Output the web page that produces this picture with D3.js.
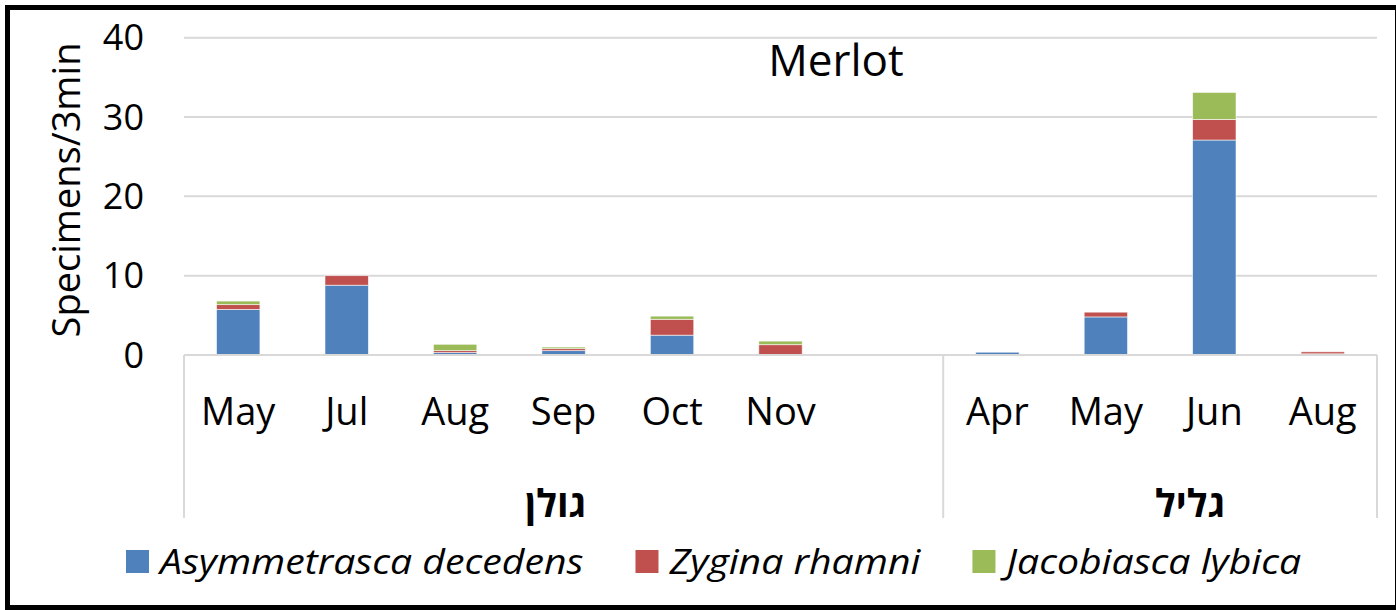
<!DOCTYPE html>
<html>
<head>
<meta charset="utf-8">
<script src="https://cdn.jsdelivr.net/npm/d3@7"></script>
<style>
  body { margin: 0; background: #fff; }
  svg { display: block; font-family: "Open Sans", "DejaVu Sans", sans-serif; }
</style>
</head>
<body>
<div id="chart"></div>
<script>
// data
const regions = ["גולן", "גליל"];
const months = ["May", "Jul", "Aug", "Sep", "Oct", "Nov", "", "Apr", "May", "Jun", "Aug"];
const regionOf = [0, 0, 0, 0, 0, 0, 0, 1, 1, 1, 1];
const species = ["Asymmetrasca decedens", "Zygina rhamni", "Jacobiasca lybica"];
const asymmetrasca = [5.75, 8.8, 0.3, 0.55, 2.5, 0, 0, 0.35, 4.8, 27.1, 0.15];
const zygina = [0.6, 1.2, 0.25, 0.25, 2.0, 1.3, 0, 0, 0.6, 2.6, 0.25];
const jacobiasca = [0.45, 0, 0.8, 0.2, 0.4, 0.45, 0, 0, 0, 3.4, 0];
const yTicks = [0, 10, 20, 30, 40];
const colors = ["#4f81bd", "#c0504d", "#9bbb59"];

const W = 1396, H = 610;
const plot = { left: 184, right: 1377, top: 37.7, bottom: 355 };

const svg = d3.select("#chart").append("svg").attr("width", W).attr("height", H);

// build rows for the stack
const rows = months.map((m, i) => ({
  idx: i, month: m, region: regionOf[i],
  [species[0]]: asymmetrasca[i], [species[1]]: zygina[i], [species[2]]: jacobiasca[i]
}));

const x = d3.scaleBand().domain(d3.range(months.length))
  .range([plot.left, plot.right]).paddingInner(0.6).paddingOuter(0.3);
const y = d3.scaleLinear().domain([0, 40]).range([plot.bottom, plot.top]);
const step = x.step();

// gridlines
svg.append("g").selectAll("line").data(yTicks.filter(t => t > 0)).join("line")
  .attr("x1", plot.left).attr("x2", plot.right)
  .attr("y1", d => y(d)).attr("y2", d => y(d))
  .attr("stroke", "#d9d9d9").attr("stroke-width", 2);

// y tick labels
svg.append("g").selectAll("text").data(yTicks).join("text")
  .attr("x", 144).attr("y", d => y(d)).attr("dy", "0.35em")
  .attr("text-anchor", "end").attr("font-size", 36).attr("fill", "#000")
  .text(d => d);

// y title
svg.append("text")
  .attr("transform", `translate(80,${190}) rotate(-90)`)
  .attr("text-anchor", "middle").attr("font-size", 38).text("Specimens/3min");

// title
svg.append("text").attr("x", 836).attr("y", 76).attr("text-anchor", "middle")
  .attr("font-size", 44).text("Merlot");

// stacked bars
const stack = d3.stack().keys(species)(rows);
svg.append("g").selectAll("g").data(stack).join("g")
  .attr("fill", (d, i) => colors[i])
  .selectAll("rect").data(d => d.filter(s => s[1] - s[0] > 0)).join("rect")
  .attr("x", d => x(d.data.idx)).attr("width", x.bandwidth())
  .attr("y", d => y(d[1])).attr("height", d => y(d[0]) - y(d[1]))
  .attr("stroke", "#fff").attr("stroke-width", 0.8).attr("stroke-opacity", 0.7);

// category axis
const axisG = svg.append("g").attr("stroke", "#d9d9d9").attr("stroke-width", 2);
axisG.append("line").attr("x1", plot.left).attr("x2", plot.right)
  .attr("y1", plot.bottom).attr("y2", plot.bottom);
const groupBounds = regions.map((r, gi) => {
  const idx = d3.range(months.length).filter(i => regionOf[i] === gi);
  return { name: r, x0: x(idx[0]) - step * x.paddingInner() / 2, x1: x(idx[idx.length - 1]) + x.bandwidth() + step * x.paddingInner() / 2 };
});
groupBounds[0].x0 = plot.left;
groupBounds[groupBounds.length - 1].x1 = plot.right;
const seps = [plot.left].concat(groupBounds.map(g => g.x1));
axisG.selectAll("line.sep").data(seps).join("line").attr("class", "sep")
  .attr("x1", d => d).attr("x2", d => d).attr("y1", plot.bottom).attr("y2", 518);

// month labels
svg.append("g").selectAll("text").data(rows).join("text")
  .attr("x", d => x(d.idx) + x.bandwidth() / 2).attr("y", 425)
  .attr("text-anchor", "middle").attr("font-size", 38).text(d => d.month);

// region labels
svg.append("g").selectAll("text").data(groupBounds).join("text")
  .attr("x", (d, i) => (d.x0 + d.x1) / 2 + (i === 0 ? -8 : 30)).attr("y", 517)
  .attr("text-anchor", "middle").attr("font-size", 38).attr("font-weight", "bold")
  .text(d => d.name);

// legend (text stretched a bit to match the wider original face)
const leg = svg.append("g");
const items = leg.selectAll("g").data(species).join("g");
items.append("rect").attr("width", 23).attr("height", 23).attr("y", 550)
  .attr("fill", (d, i) => colors[i]);
items.append("text").attr("x", 34).attr("y", 574).attr("font-size", 35)
  .attr("font-style", "italic").text(d => d);
let cx = 126;
items.each(function() {
  const g = d3.select(this);
  const t = g.select("text");
  const len = t.node().getComputedTextLength() * 1.12;
  t.attr("textLength", len).attr("lengthAdjust", "spacingAndGlyphs");
  g.attr("transform", `translate(${cx},0)`);
  cx += 34 + len + 52;
});

// outer frame
svg.append("rect").attr("x", 7.5).attr("y", 7.5).attr("width", 1390).attr("height", 600)
  .attr("fill", "none").attr("stroke", "#000").attr("stroke-width", 5);
</script>
</body>
</html>
